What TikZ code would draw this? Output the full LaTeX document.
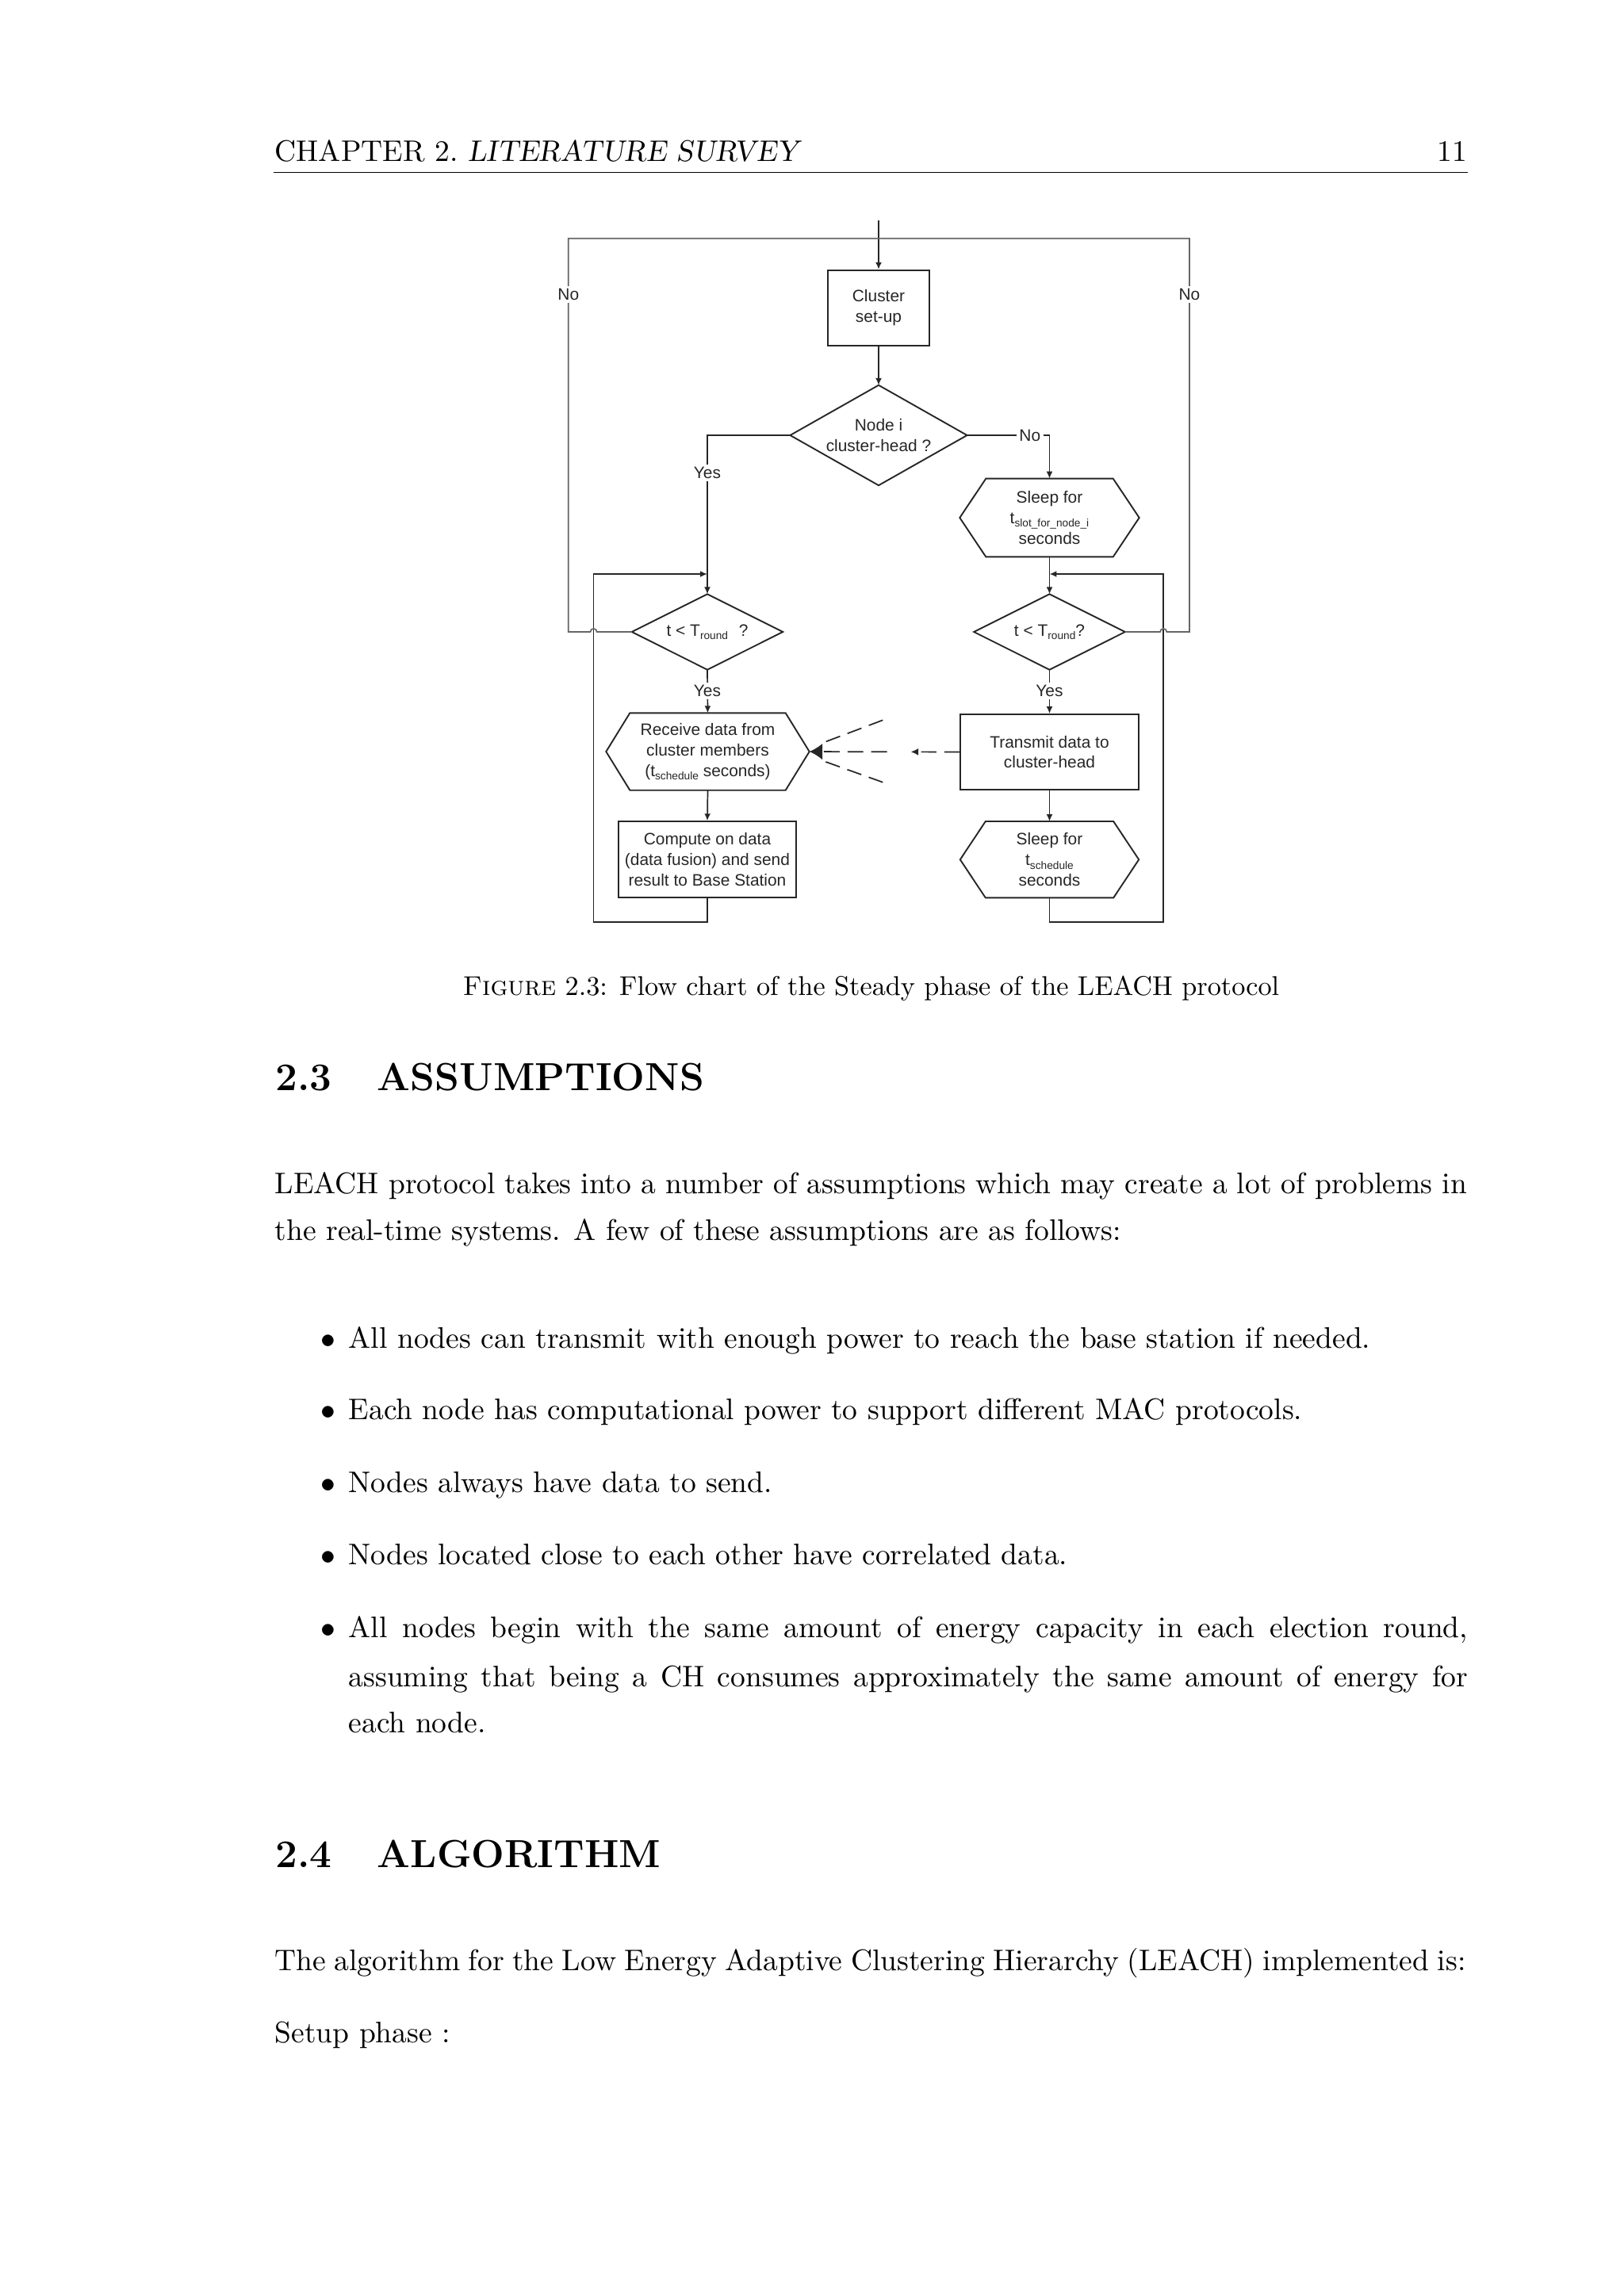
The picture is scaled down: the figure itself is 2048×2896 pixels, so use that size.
\documentclass[tikz,border=0pt]{standalone}
\usepackage{fontspec}
\setmainfont{Latin Modern Roman}
\newfontfamily\lmsc{lmromancaps10-regular.otf}
\newfontfamily\lmsl{lmromanslant10-regular.otf}
\newfontfamily\fcfont{Liberation Sans}
\usetikzlibrary{arrows.meta,calc}
\def\pxu{0.102539mm}
\newcommand\hexo[2]{\draw[boxln] (#1.west) -- ($(#1.north west)+(#2,0)$) -- ($(#1.north east)+(-#2,0)$) -- (#1.east) -- ($(#1.south east)+(-#2,0)$) -- ($(#1.south west)+(#2,0)$) -- cycle;}
\newcommand\diao[1]{\draw[boxln] (#1.north) -- (#1.east) -- (#1.south) -- (#1.west) -- cycle;}
\newcommand\fsub[1]{\raisebox{-1.3pt}{\fontsize{4}{4}\selectfont #1}}
\begin{document}
\begin{tikzpicture}[x=0.102539mm,y=-0.102539mm,
  fc/.style={font=\fcfont\fontsize{6.1}{7.5}\selectfont, text=black!85, align=center},
  boxln/.style={draw=black!85, line width=0.55pt},
  ln/.style={draw=black!85, line width=0.5pt},
  arr/.style={ln, -{Latex[length=2.6pt,width=2.3pt]}},
  outer/.style={draw=black!60, line width=0.5pt},
  lbl/.style={fc, fill=white, inner sep=1pt},
  txt/.style={anchor=base west, inner sep=0, font=\fontsize{10.95}{13.6}\selectfont},
  hd/.style={anchor=base west, inner sep=0, font=\fontsize{14.4}{18}\selectfont\bfseries}]
\fill[white] (0,0) rectangle (2048,2896);
\useasboundingbox (0,0) rectangle (2048,2896);

% running head
\node[txt] (hdr) at (346,203) {CHAPTER 2.\ {\lmsl LITERATURE SURVEY}};
\node[txt, anchor=base east] (pg) at (1851,203) {11};
\draw[line width=0.4pt] (345,217.5) -- (1851,217.5);

% flowchart nodes
\coordinate (in) at (1108,278);
\node[fc, boxln, draw, inner sep=0, minimum width=127.8*\pxu, minimum height=95.3*\pxu] (setup) at (1108,388.4) {Cluster\\set-up};
\node[fc, inner sep=0, minimum width=221.7*\pxu, minimum height=125*\pxu] (d1) at (1108,549) {Node i\\cluster-head ?};
\diao{d1}
\node[fc, inner sep=0, minimum width=225*\pxu, minimum height=97.4*\pxu] (sl1) at (1323.5,653) {Sleep for\\t\fsub{slot\_for\_node\_i}\\seconds};
\hexo{sl1}{33}
\node[fc, inner sep=0, minimum width=189.2*\pxu, minimum height=94*\pxu] (d2) at (892,797) {t < T\fsub{round}\hspace{4pt}?};
\diao{d2}
\node[fc, inner sep=0, minimum width=189.3*\pxu, minimum height=94*\pxu] (d3) at (1323.5,797) {t < T\fsub{round}?};
\diao{d3}
\node[fc, inner sep=0, minimum width=255*\pxu, minimum height=96*\pxu] (recv) at (892.5,948) {Receive data from\\cluster members\\(t\fsub{schedule} seconds)};
\hexo{recv}{30}
\node[fc, boxln, draw, inner sep=0, minimum width=223.8*\pxu, minimum height=95.7*\pxu] (comp) at (892,1084) {Compute on data\\(data fusion) and send\\result to Base Station};
\node[fc, boxln, draw, inner sep=0, minimum width=225*\pxu, minimum height=95*\pxu] (tx) at (1323.5,948.5) {Transmit data to\\cluster-head};
\node[fc, inner sep=0, minimum width=224*\pxu, minimum height=95*\pxu] (sl2) at (1323.5,1084.2) {Sleep for\\t\fsub{schedule}\\seconds};
\hexo{sl2}{32}

% connectors
\draw[arr] (in) -- (setup.north);
\draw[arr] (setup.south) -- (d1.north);
\draw[arr] (d1.west) -| (d2.north);
\node[lbl] (yes1) at (892,596.7) {Yes};
\draw[arr] (d1.east) -| (sl1.north);
\node[lbl] (no1) at (1298.8,549) {No};
\draw[arr] (sl1.south) -- (d3.north);
\draw[arr] (d2.south) -- (recv.north);
\node[lbl] (yes2) at (892,871.7) {Yes};
\draw[arr] (d3.south) -- (tx.north);
\node[lbl] (yes3) at (1323.5,871.7) {Yes};
\draw[arr] (recv.south) -- (comp.north);
\draw[arr] (tx.south) -- (sl2.north);
\coordinate (jL) at (892,724);
\coordinate (lbot) at (748.6,1163.3);
\draw[arr] (comp.south) |- (lbot) |- (jL);
\coordinate (jR) at (1323.5,724);
\coordinate (rbot) at (1467.2,1163.3);
\draw[arr] (sl2.south) |- (rbot) |- (jR);

% outer "No" loops
\coordinate (otl) at (716.8,300.7);
\coordinate (otr) at (1500,300.7);
\coordinate (otm) at (1108,300.7);
\draw[outer] (d2.west) -- (752.7,797) arc[start angle=0,end angle=180,radius=1.2pt] -- (716.8,797) -- (otl) -- (otm);
\draw[outer] (d3.east) -- (1463.1,797) arc[start angle=180,end angle=0,radius=1.2pt] -- (1500,797) -- (otr) -- (otm);
\node[lbl] (noL) at (716.8,371.7) {No};
\node[lbl] (noR) at (1500,371.7) {No};

% dashed transmission
\coordinate (m1) at (1148.5,948.3);
\coordinate (m2) at (1118.5,948.3);
\coordinate (u2) at (1113.3,908.3);
\coordinate (u1) at (1036,937.5);
\coordinate (w2) at (1113.3,986.7);
\coordinate (w1) at (1036,959);
\draw[ln, dash pattern=on 5.6pt off 2.9pt, -{Latex[length=2.8pt,width=2.6pt]}] (tx.west) -- (m1);
\draw[ln, dash pattern=on 5.8pt off 2.9pt, -{Latex[length=4.8pt,width=6pt]}] (m2) -- (recv.east);
\draw[ln, dash pattern=on 5.5pt off 2.9pt] (u2) -- (u1);
\draw[ln, dash pattern=on 5.5pt off 2.9pt] (w2) -- (w1);

% caption
\node[txt, anchor=base, font=\fontsize{10}{12}\selectfont] (cap) at (1098.5,1255) {{\lmsc Figure} 2.3: Flow chart of the Steady phase of the LEACH protocol};

% section 2.3
\node[hd] (s23n) at (347,1375) {2.3};
\node[hd] (s23t) at (475,1375) {ASSUMPTIONS};
\node[txt] (p1) at (346,1505) {\makebox[154.15mm][s]{LEACH protocol takes into a number of assumptions which may create a lot of problems in}};
\node[txt] (p2) at (346,1564) {the real-time systems. A few of these assumptions are as follows:};

\node[txt, anchor=base] (b1) at (413.5,1700) {$\bullet$};
\node[txt] (i1) at (439,1700) {All nodes can transmit with enough power to reach the base station if needed.};
\node[txt, anchor=base] (b2) at (413.5,1790.7) {$\bullet$};
\node[txt] (i2) at (439,1790.7) {Each node has computational power to support different MAC protocols.};
\node[txt, anchor=base] (b3) at (413.5,1882.7) {$\bullet$};
\node[txt] (i3) at (439,1882.7) {Nodes always have data to send.};
\node[txt, anchor=base] (b4) at (413.5,1973.3) {$\bullet$};
\node[txt] (i4) at (439,1973.3) {Nodes located close to each other have correlated data.};
\node[txt, anchor=base] (b5) at (413.5,2065) {$\bullet$};
\node[txt] (i5a) at (439,2065) {\makebox[144.74mm][s]{All nodes begin with the same amount of energy capacity in each election round,}};
\node[txt] (i5b) at (439,2127.3) {\makebox[144.74mm][s]{assuming that being a CH consumes approximately the same amount of energy for}};
\node[txt] (i5c) at (439,2185) {each node.};

% section 2.4
\node[hd] (s24n) at (347,2355) {2.4};
\node[hd] (s24t) at (475,2355) {ALGORITHM};
\node[txt] (p3) at (346,2485) {\makebox[154.0mm][s]{The algorithm for the Low Energy Adaptive Clustering Hierarchy (LEACH) implemented is:}};
\node[txt] (p4) at (346,2576.7) {Setup phase :};
\end{tikzpicture}
\end{document}
